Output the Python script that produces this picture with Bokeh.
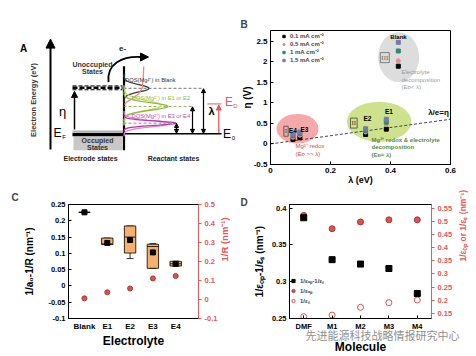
import numpy as np
from bokeh.plotting import figure
from bokeh.models import (Range1d, LinearAxis, FixedTicker, CustomJSTickFormatter, Label,
                          Arrow, NormalHead, Legend, LegendItem)
from bokeh.layouts import column, row
from bokeh.embed import file_html
from bokeh.resources import INLINE

FONT = "Liberation Sans"
RED = "#e05a5a"

# ---------------- data ----------------
# Panel B : overpotential vs reorganisation energy
b_electrolytes = ["Blank", "E1", "E2", "E3", "E4"]
b_lambda = [0.426, 0.386, 0.317, 0.098, 0.075]
b_eta_01 = [1.89, 0.36, 0.23, 0.15, 0.11]
b_eta_05 = [2.02, 0.47, 0.29, 0.21, 0.16]
b_eta_1 = [2.26, 0.53, 0.33, 0.25, 0.20]
b_eta_15 = [2.47, 0.60, 0.37, 0.29, 0.24]
b_current_labels = ["0.1 mA cm⁻²", "0.5 mA cm⁻²", "1 mA cm⁻²", "1.5 mA cm⁻²"]
b_ref_lambda = [0.0, 0.6]
b_ref_eta = [0.0, 0.6]
b_region_names = ["I", "II", "III"]
b_region_lambda = [0.090, 0.362, 0.427]
b_region_eta = [0.37, 0.54, 2.11]
b_region_width = [0.14, 0.215, 0.137]
b_region_height = [0.72, 0.97, 1.21]
b_x_ticks = [0, 0.2, 0.4, 0.6]
b_y_ticks = [-0.5, 0, 0.5, 1, 1.5, 2, 2.5]

# Panel C : box statistics of 1/a0-1/R and 1/R
c_categories = ["Blank", "E1", "E2", "E3", "E4"]
c_q1 = [0.226, 0.127, 0.101, 0.054, 0.061]
c_q3 = [0.226, 0.147, 0.184, 0.128, 0.0755]
c_median = [0.226, 0.129, 0.150, 0.121, 0.068]
c_mean = [0.226, 0.132, 0.141, 0.103, 0.068]
c_whisker_low = [0.226, 0.127, 0.084, 0.054, 0.061]
c_whisker_high = [0.226, 0.147, 0.184, 0.130, 0.0755]
c_inv_R = [0.006, 0.038, 0.058, 0.111, 0.124]
c_left_ticks = [-0.1, -0.05, 0, 0.05, 0.1, 0.15, 0.2, 0.25]
c_right_ticks = [-0.1, 0, 0.1, 0.2, 0.3, 0.4, 0.5]

# Panel D : dielectric quantities per molecule
d_molecules = ["DMF", "M1", "M2", "M3", "M4"]
d_diff = [0.387, 0.330, 0.324, 0.318, 0.284]
d_inv_eop = [0.525, 0.474, 0.500, 0.508, 0.508]
d_inv_es = [0.136, 0.142, 0.172, 0.190, 0.200]
d_series_labels = ["1/εₒₚ-1/εₛ", "1/εₒₚ", "1/εₛ"]
d_left_ticks = [0.25, 0.3, 0.35, 0.4]
d_right_ticks = [0.15, 0.2, 0.25, 0.3, 0.35, 0.4, 0.45, 0.5, 0.55]

# Panel A : schematic density-of-states curves (centre, amplitude, width, colour)
a_dos_curves = [
    (80.7, 25, 5.0, "#3a3a3a"),
    (104.5, 37, 7.0, "#c2e07a"),
    (106.0, 44, 5.2, "#93b93a"),
    (130.0, 46, 4.4, "#e58ad0"),
    (129.3, 52, 3.0, "#b43aa8"),
]
a_tail_x = [143.3, 142.7, 141.7, 138.3, 131.7, 126.0, 124.0]
a_tail_y = [50.0, 66.7, 80.0, 88.3, 95.0, 100.0, 103.3]

WATERMARK = "\u3000\u3000\u3000\u3000先进能源科技战略情报研究中心"

fmt = CustomJSTickFormatter(code="return String(Math.round(tick*1000)/1000);")


def make_map(fx0, fx1, fy0, fy1, xr0, xr1, yr0, yr1):
    def f(px, py):
        return (xr0 + (px - fx0) / (fx1 - fx0) * (xr1 - xr0),
                yr1 - (py - fy0) / (fy1 - fy0) * (yr1 - yr0))
    return f


def txt(p, xy, s, size=8, color="black", bold=False, align="center", angle=0.0,
        font=FONT, **kw):
    lab = Label(x=xy[0], y=xy[1], text=s, text_font=font, text_font_size=f"{size}px",
                text_color=color, text_font_style="bold" if bold else "normal",
                text_align=align, text_baseline="middle", angle=angle, **kw)
    p.add_layout(lab)
    return lab


def base_fig(w, h, xr, yr, ml, mr, mt, mb):
    p = figure(width=w, height=h, x_range=xr, y_range=yr, output_backend="svg",
               toolbar_location=None, tools="", min_border_left=ml, min_border_right=mr,
               min_border_top=mt, min_border_bottom=mb)
    p.xgrid.visible = False
    p.ygrid.visible = False
    p.outline_line_color = "black"
    p.outline_line_alpha = 1
    p.outline_line_width = 1
    return p


def style_axis(ax, color="black", size="8px", tin=3, tout=0):
    ax.major_label_text_font = FONT
    ax.major_label_text_font_style = "bold"
    ax.major_label_text_font_size = size
    ax.major_label_text_color = color
    ax.axis_line_color = color
    ax.major_tick_line_color = color
    ax.major_tick_in = tin
    ax.major_tick_out = tout
    ax.minor_tick_line_color = None
    ax.major_label_standoff = 3


def axis_title(ax, text, size, standoff, color="black", font=FONT, style="bold"):
    ax.axis_label = text
    ax.axis_label_text_font = font
    ax.axis_label_text_font_style = style
    ax.axis_label_text_font_size = f"{size}px"
    ax.axis_label_text_color = color
    ax.axis_label_standoff = standoff


def panel_letter(p, letter, offset, standoff):
    p.title.text = letter
    p.title.align = "left"
    p.title.offset = offset
    p.title.standoff = standoff
    p.title.text_font = FONT
    p.title.text_font_size = "10px"
    p.title.text_font_style = "bold"


def flip_right_label(ax):
    if "axis_label_orientation" in ax.properties():
        ax.axis_label_orientation = np.pi / 2


# ---------------- Panel A (schematic) ----------------
pA = figure(width=238, height=187, x_range=Range1d(0, 238), y_range=Range1d(187, 0),
            output_backend="svg", toolbar_location=None, tools="",
            x_axis_type=None, y_axis_type=None,
            min_border_left=0, min_border_right=0, min_border_top=0, min_border_bottom=0)
pA.xgrid.visible = False
pA.ygrid.visible = False
pA.outline_line_color = None

pA.add_layout(Arrow(x_start=50, y_start=166, x_end=50, y_end=12, line_width=2,
                    end=NormalHead(size=9, fill_color="black", line_color="black")))
txt(pA, (23, 25), "A", 10, bold=True)
txt(pA, (33, 97), "Electron Energy (eV)", 7.5, color="#333333", bold=True, angle=np.pi / 2)
txt(pA, (122, 25), "e-", 8, color="#222222", bold=True)
pA.bezier(x0=[108], y0=[72], x1=[140], y1=[37], cx0=[106], cy0=[46], cx1=[122], cy1=[36],
          line_width=1.8, line_color="black")
pA.add_layout(Arrow(x_start=139, y_start=37, x_end=148, y_end=37, line_alpha=0,
                    end=NormalHead(size=8, fill_color="black", line_color="black")))
txt(pA, (92, 48), "Unoccupied", 7, color="#333333", bold=True)
txt(pA, (92, 57), "States", 7, color="#333333", bold=True)
pA.line([72, 122], [77.3, 77.3], line_width=1, line_dash="4 2", line_color="black")
pA.line([72, 122], [80, 80], line_width=2.5, line_dash="5 2", line_color="black")
pA.line([72, 122], [82.7, 82.7], line_width=1, line_dash="4 2", line_color="black")
pA.quad(left=[73], right=[122], top=[148], bottom=[167], fill_color="#c8c8c8", line_color=None)
txt(pA, (97, 154), "Occupied", 7, color="#333333", bold=True)
txt(pA, (97, 163), "States", 7, color="#333333", bold=True)
pA.line([72, 123], [140.5, 140.5], line_width=1, line_color="#888888")
pA.line([72, 123], [145, 145], line_width=3.5, line_color="black")
txt(pA, (57, 143), "E", 12)
txt(pA, (63.5, 148), "F", 6)
pA.add_layout(Arrow(x_start=74, y_start=138, x_end=74, y_end=85, line_width=1.5,
                    end=NormalHead(size=6, fill_color="black", line_color="black")))
txt(pA, (62, 113), "η", 13)
pA.line([123.5, 123.5], [50, 167], line_width=2.2, line_color="black")
pA.line([123, 221], [144, 144], line_width=1.5, line_color="black")
txt(pA, (226.5, 145), "E", 12)
txt(pA, (233, 150), "0", 6)
pA.line([123, 203], [80.7, 80.7], line_width=0.8, line_dash="3 2", line_color="#555555")
pA.line([123, 192], [106, 106], line_width=0.8, line_dash="3 2", line_color="#7d9a4a")
pA.line([123, 176], [129.3, 129.3], line_width=0.8, line_dash="3 2", line_color="#a0509a")
for c, amp, s, col in a_dos_curves:
    yy = np.linspace(c - 4 * s, c + 4 * s, 60)
    xx = 123.5 + amp * np.exp(-((yy - c) ** 2) / (2 * s * s))
    pA.line(xx, yy, line_color=col, line_width=1.3)
pA.line(a_tail_x, a_tail_y, line_color="#f08a80", line_width=1.3)
for xa, ya in [(176, 129.3), (192, 106), (203, 80.7)]:
    pA.add_layout(Arrow(x_start=xa, y_start=143.5, x_end=xa, y_end=ya + 0.5, line_width=1.2,
                        start=NormalHead(size=4, fill_color="black", line_color="black"),
                        end=NormalHead(size=4, fill_color="black", line_color="black")))
txt(pA, (211, 113), "λ", 11, bold=True)
pA.line([207, 221], [102.5, 102.5], line_width=1, line_color=RED)
pA.add_layout(Arrow(x_start=218.3, y_start=143.5, x_end=218.3, y_end=104, line_width=1.3,
                    line_color=RED, end=NormalHead(size=5, fill_color=RED, line_color=RED)))
txt(pA, (228.5, 100), "E", 12, color=RED)
txt(pA, (235, 105), "D", 6, color=RED)
txt(pA, (124.5, 68.5), "DOS(Mg²⁺) in Blank", 5.8, color="#333333", align="left")
txt(pA, (131, 94.5), "DOS(Mg²⁺) in E1 or E2", 5.8, color="#8cc04a", align="left")
txt(pA, (131, 119), "DOS(Mg²⁺) in E3 or E4", 5.8, color="#c050b0", align="left")
txt(pA, (90, 179), "Electrode states", 7, color="#222222", bold=True)
txt(pA, (173, 179), "Reactant states", 7, color="#222222", bold=True)

# ---------------- Panel B ----------------
BX0, BX1, BY0, BY1 = 0.0, 0.6, -0.5, 2.758
pB = base_fig(238, 187, Range1d(BX0, BX1), Range1d(BY0, BY1), 32, 26, 30, 22)
bm = make_map(270, 450, 30, 165, BX0, BX1, BY0, BY1)
pB.ellipse(x=b_region_lambda, y=b_region_eta, width=b_region_width, height=b_region_height,
           fill_color=["#f4a0a0", "#c9de7f", "#d9d9d9"], fill_alpha=0.9, line_color=None)
pB.line(b_ref_lambda, b_ref_eta, line_dash="3 2", line_color="#444444", line_width=1)
series = [(b_eta_01, "black", "square"), (b_eta_05, "#ee8a90", "circle"),
          (b_eta_1, "#2e8a6e", "square"), (b_eta_15, "#7878b0", "square")]
b_items = []
for (vals, col, mk), lab in zip(series, b_current_labels):
    r = pB.scatter(b_lambda, vals, marker=mk, size=4, fill_color=col, line_color=col)
    b_items.append(LegendItem(label=lab, renderers=[r]))
legB = Legend(items=b_items, location=(10, 100), background_fill_alpha=0, border_line_color=None,
              padding=0, spacing=0, margin=0, glyph_width=7, glyph_height=6, label_height=6,
              label_standoff=3, label_text_font_size="6px", label_text_font=FONT,
              label_text_font_style="bold")
pB.add_layout(legB)
style_axis(pB.xaxis[0])
style_axis(pB.yaxis[0])
pB.xaxis[0].ticker = FixedTicker(ticks=b_x_ticks)
pB.yaxis[0].ticker = FixedTicker(ticks=b_y_ticks)
pB.xaxis[0].formatter = fmt
pB.yaxis[0].formatter = fmt
axis_title(pB.xaxis[0], "λ (eV)", 9, -1)
axis_title(pB.yaxis[0], "η (V)", 10, -2)
panel_letter(pB, "B", -30, 1)
txt(pB, bm(398, 36.5), "Blank", 6, bold=True)
txt(pB, bm(388.5, 111.5), "E1", 6.5, bold=True)
txt(pB, bm(367, 118.3), "E2", 6.5, bold=True)
txt(pB, bm(292.3, 130.5), "E4", 6.5, bold=True)
txt(pB, bm(304, 130), "E3", 6.5, bold=True)
txt(pB, bm(438, 113), "λ/e=η", 8, bold=True)
for name, cxy, col in zip(b_region_names, [(285.5, 131.5), (353.3, 123.3), (384.3, 57.3)],
                          ["#444444", "#444444", "#666666"]):
    txt(pB, bm(*cxy), name, 7, color=col, font="Liberation Serif",
        border_line_color=col, border_line_width=0.8, padding=1)
for i, s in enumerate(["Electrolyte", "decomposition", "(Eᴅ< λ)"]):
    txt(pB, bm(401, 71.7 + 7.8 * i), s, 6, color="#9a9a9a", align="left")
for i, s in enumerate(["Mg²⁺ redox & electrolyte", "decomposition", "(Eᴅ≈ λ)"]):
    txt(pB, bm(371, 140 + 7.5 * i), s, 6, color="#5b8c3a", align="left", bold=True)
for i, s in enumerate(["Mg²⁺ redox", "(Eᴅ >> λ)"]):
    txt(pB, bm(295, 146.7 + 7.6 * i), s, 6, color="#d04848", align="left")

# ---------------- Panel C ----------------
CX0, CX1, CY0, CY1 = 0.3, 6.0, -0.1, 0.25
CR0, CR1 = -0.1, 0.5
pC = base_fig(238, 169, Range1d(CX0, CX1), Range1d(CY0, CY1), 68, 35, 13, 32)
pC.extra_y_ranges = {"r": Range1d(CR0, CR1)}
c_x = list(range(1, len(c_categories) + 1))
hw = 0.25
pC.segment(x0=c_x, x1=c_x, y0=c_q1, y1=c_whisker_low, line_color="black", line_width=0.8)
pC.segment(x0=[x - 0.15 for x in c_x], x1=[x + 0.15 for x in c_x], y0=c_whisker_low,
           y1=c_whisker_low, line_color="black", line_width=0.8)
pC.segment(x0=[x - 0.15 for x in c_x], x1=[x + 0.15 for x in c_x], y0=c_whisker_high,
           y1=c_whisker_high, line_color="black", line_width=0.8)
pC.quad(left=[x - hw for x in c_x], right=[x + hw for x in c_x], bottom=c_q1, top=c_q3,
        fill_color="#f5b06c", line_color="black", line_width=0.8)
pC.segment(x0=[x - hw for x in c_x], x1=[x + hw for x in c_x], y0=c_median, y1=c_median,
           line_color="black", line_width=0.8)
pC.scatter(c_x, c_mean, marker="square", size=5, color="black")
pC.scatter(c_x, c_inv_R, y_range_name="r", marker="circle", size=5, fill_color="#d9534f",
           line_color="#a83838")
axCR = LinearAxis(y_range_name="r")
pC.add_layout(axCR, "right")
style_axis(pC.xaxis[0], size="8px")
style_axis(pC.yaxis[0], size="7.5px")
style_axis(axCR, color=RED, size="7.5px", tin=0, tout=3)
pC.xaxis[0].ticker = FixedTicker(ticks=c_x)
pC.xaxis[0].major_label_overrides = {x: s for x, s in zip(c_x, c_categories)}
pC.xaxis[0].major_tick_line_color = None
pC.yaxis[0].ticker = FixedTicker(ticks=c_left_ticks)
pC.yaxis[0].formatter = fmt
axCR.ticker = FixedTicker(ticks=c_right_ticks)
axCR.formatter = fmt
axis_title(pC.xaxis[0], "Electrolyte", 12, 0)
axis_title(pC.yaxis[0], "1/a₀-1/R (nm⁻¹)", 10, 10)
axis_title(axCR, "1/R (nm⁻¹)", 9.5, 4, color=RED)
flip_right_label(axCR)
panel_letter(pC, "C", -57, 4)

# ---------------- Panel D ----------------
DX0, DX1, DY0, DY1 = 0.5, 5.5, 0.25, 0.405
DR0, DR1 = 0.129, 0.567
pD = base_fig(238, 169, Range1d(DX0, DX1), Range1d(DY0, DY1), 51, 44, 10, 33)
pD.extra_y_ranges = {"r": Range1d(DR0, DR1)}
d_x = list(range(1, len(d_molecules) + 1))
r1 = pD.scatter(d_x, d_inv_eop, y_range_name="r", marker="circle", size=6,
                fill_color="#d9534f", line_color="#a83838")
r2 = pD.scatter(d_x, d_inv_es, y_range_name="r", marker="circle", size=6,
                fill_color=None, line_color="#d9534f")
r0 = pD.scatter(d_x, d_diff, marker="square", size=6, color="black")
legD = Legend(items=[LegendItem(label=d_series_labels[0], renderers=[r0]),
                     LegendItem(label=d_series_labels[1], renderers=[r1]),
                     LegendItem(label=d_series_labels[2], renderers=[r2])],
              location=(0, 13), background_fill_alpha=0, border_line_color=None,
              padding=0, spacing=1, margin=0, glyph_width=8, glyph_height=9, label_height=9,
              label_standoff=3, label_text_font_size="6px", label_text_font=FONT,
              label_text_font_style="bold")
pD.add_layout(legD)
axDR = LinearAxis(y_range_name="r")
pD.add_layout(axDR, "right")
style_axis(pD.xaxis[0], size="7.5px")
style_axis(pD.yaxis[0], size="7.5px")
style_axis(axDR, color=RED, size="7.5px", tin=0, tout=3)
pD.xaxis[0].ticker = FixedTicker(ticks=d_x)
pD.xaxis[0].major_label_overrides = {x: s for x, s in zip(d_x, d_molecules)}
pD.yaxis[0].ticker = FixedTicker(ticks=d_left_ticks)
pD.yaxis[0].formatter = fmt
axDR.ticker = FixedTicker(ticks=d_right_ticks)
axDR.formatter = fmt
axis_title(pD.yaxis[0], "1/εₒₚ-1/εₛ (nm⁻¹)", 10, 4)
axis_title(axDR, "1/εₒₚ or 1/εₛ (nm⁻¹)", 8.5, 8, color=RED)
flip_right_label(axDR)
# watermark sits over tick labels, drawn as the label of the first bottom axis
axis_title(pD.xaxis[0], WATERMARK, 11, -7, color="#8f8f8f", font="Noto Sans CJK SC",
           style="normal")
axMol = LinearAxis(ticker=FixedTicker(ticks=[]))
axMol.axis_line_color = None
axMol.major_tick_line_color = None
axMol.major_tick_out = 0
axMol.major_tick_in = 0
axMol.major_label_standoff = 0
pD.add_layout(axMol, "below")
axis_title(axMol, "Molecule", 12, -6)
panel_letter(pD, "D", -49, -6)

layout = column(row(pA, pB), row(pC, pD))
open("out.html", "w").write(file_html(layout, INLINE))
